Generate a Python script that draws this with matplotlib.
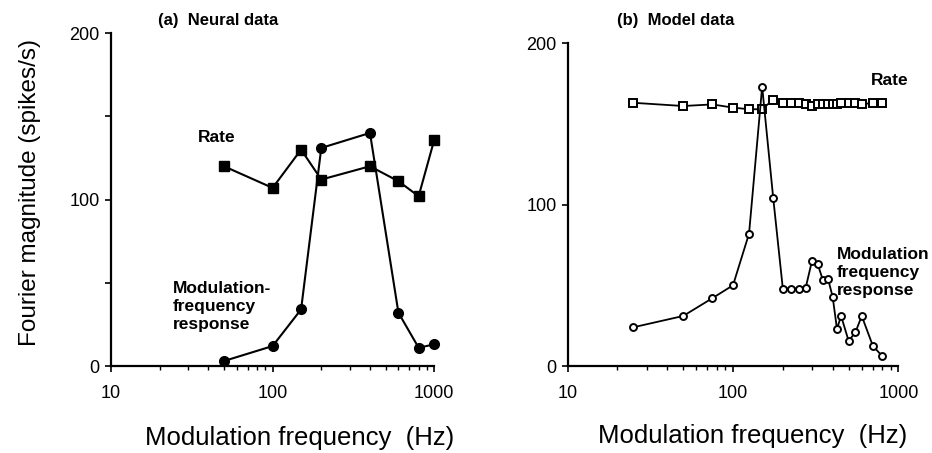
import matplotlib.pyplot as plt
from matplotlib.ticker import LogLocator, NullFormatter, FixedLocator

plt.rcParams['font.family'] = ['Liberation Sans', 'DejaVu Sans']

# (a) neural data
neural_freq = [50, 100, 150, 200, 400, 600, 800, 1000]
neural_rate = [120, 107, 130, 112, 120, 111, 102, 136]
neural_mfr = [3, 12, 34, 131, 140, 32, 11, 13]

# (b) model data
model_freq = [25, 50, 75, 100, 125, 150, 175, 200, 225, 250, 275, 300,
              325, 350, 375, 400, 425, 450, 500, 550, 600, 700, 800]
model_rate = [163, 161, 162, 160, 159, 159, 165, 163, 163, 163, 162, 161,
              162, 162, 162, 162, 162, 163, 163, 163, 162, 163, 163]
model_mfr = [24, 31, 42, 50, 82, 173, 104, 48, 48, 48, 48.5, 65,
             63, 53, 54, 43, 23, 31, 15.5, 21, 31, 12.5, 6]

fig = plt.figure(figsize=(9.32, 4.53), dpi=100)
ax1 = fig.add_axes([0.119, 0.192, 0.347, 0.735])
ax2 = fig.add_axes([0.609, 0.192, 0.355, 0.713])


def style(ax, label_x):
    ax.set_xscale('log')
    ax.set_xlim(10, 1000)
    ax.set_ylim(0, 200)
    ax.spines['top'].set_visible(False)
    ax.spines['right'].set_visible(False)
    ax.spines['left'].set_linewidth(1.6)
    ax.spines['bottom'].set_linewidth(1.6)
    ax.xaxis.set_major_locator(FixedLocator([10, 100, 1000]))
    ax.xaxis.set_major_formatter(plt.FixedFormatter(['10', '100', '1000']))
    ax.xaxis.set_minor_locator(LogLocator(base=10, subs=range(2, 10)))
    ax.xaxis.set_minor_formatter(NullFormatter())
    ax.set_yticks([0, 100, 200])
    ax.tick_params(axis='x', which='major', labelsize=13, length=4, width=1.2, pad=10)
    ax.tick_params(axis='y', which='major', labelsize=13, length=4, width=1.2, pad=4)
    ax.tick_params(axis='x', which='minor', length=3, width=1)
    ax.set_xlabel('Modulation frequency  (Hz)', fontsize=18.5)
    ax.xaxis.set_label_coords(label_x, -0.18)


style(ax1, 0.585)
style(ax2, 0.559)
ax1.set_yticks([50, 150], minor=True)
ax1.tick_params(axis='y', which='minor', length=4, width=1.2)

ax1.plot(neural_freq, neural_rate, '-s', color='black', lw=1.5, ms=7, clip_on=False)
ax1.plot(neural_freq, neural_mfr, '-o', color='black', lw=1.5, ms=7, clip_on=False)

ax2.plot(model_freq, model_rate, '-s', color='black', mfc='white', mew=1.4,
         lw=1.3, ms=6, clip_on=False)
ax2.plot(model_freq, model_mfr, '-o', color='black', mfc='white', mew=1.4,
         lw=1.3, ms=5, clip_on=False)

fig.text(30 / 932, 1 - 192 / 453, 'Fourier magnitude (spikes/s)', fontsize=17.5,
         rotation=90, ha='center', va='center')

fig.text(0.169, 0.954, '(a)  Neural data', fontsize=12, fontweight='bold', va='center')
fig.text(0.662, 0.954, '(b)  Model data', fontsize=12, fontweight='bold', va='center')

ax1.text(45, 137, 'Rate', fontsize=12.5, fontweight='bold', ha='center', va='center')
ax1.text(24, 51, 'Modulation-\nfrequency\nresponse', fontsize=12.5, fontweight='bold',
         ha='left', va='top', linespacing=1.25)
ax2.text(883, 177, 'Rate', fontsize=12.5, fontweight='bold', ha='center', va='center')
ax2.text(422, 74, 'Modulation\nfrequency\nresponse', fontsize=12.5, fontweight='bold',
         ha='left', va='top', linespacing=1.25)

fig.savefig('out.png', dpi=100)
